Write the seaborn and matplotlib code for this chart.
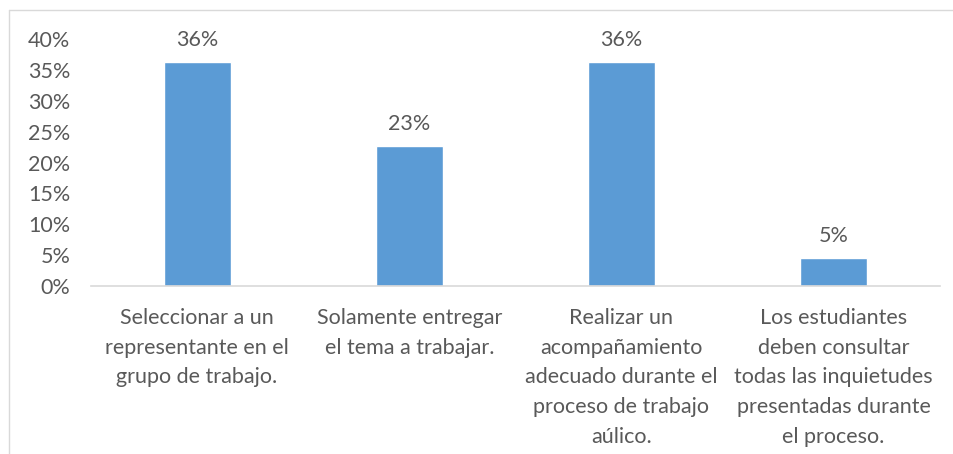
import matplotlib
matplotlib.use("Agg")
import matplotlib.pyplot as plt
import seaborn as sns
import pandas as pd
from matplotlib.lines import Line2D
from matplotlib.ticker import PercentFormatter

# Datos del gráfico
categorias = [
    "Seleccionar a un\nrepresentante en el\ngrupo de trabajo.",
    "Solamente entregar\nel tema a trabajar.",
    "Realizar un\nacompañamiento\nadecuado durante el\nproceso de trabajo\naúlico.",
    "Los estudiantes\ndeben consultar\ntodas las inquietudes\npresentadas durante\nel proceso.",
]
valores = [0.3636, 0.2273, 0.3636, 0.0455]
etiquetas = ["36%", "23%", "36%", "5%"]

df = pd.DataFrame({"categoria": categorias, "valor": valores})

sns.set_style("white")
plt.rcParams["font.family"] = ["Lato", "DejaVu Sans"]
gris = "#595959"

fig = plt.figure(figsize=(9.54, 4.54), dpi=100)
ax = fig.add_axes([0.0954, 0.370, 0.8896, 0.544])

sns.barplot(data=df, x="categoria", y="valor", color="#5B9BD5", width=0.316,
            saturation=1, ax=ax)

# Etiquetas de datos sobre las barras
for i, (v, t) in enumerate(zip(valores, etiquetas)):
    ax.text(i, v + 0.019, t, ha="center", va="bottom", fontsize=15.5, color=gris)

ax.set_ylim(0, 0.40)
ax.set_yticks([i * 0.05 for i in range(9)])
ax.yaxis.set_major_formatter(PercentFormatter(1.0, decimals=0))
ax.set_xlim(-0.5, 3.5)
ax.set_xlabel("")
ax.set_ylabel("")
ax.tick_params(axis="both", length=0, labelsize=15.5, colors=gris)
ax.tick_params(axis="x", pad=16)
ax.tick_params(axis="y", pad=15)
for lbl in ax.get_xticklabels():
    lbl.set_linespacing(1.6)

for s in ["top", "right", "left"]:
    ax.spines[s].set_visible(False)
ax.spines["bottom"].set_color("#D9D9D9")
ax.spines["bottom"].set_linewidth(1.2)

# Borde del área del gráfico
x0 = 9.5 / 954
y0 = 1 - 9.5 / 454
fig.add_artist(Line2D([x0, 1], [y0, y0], color="#D9D9D9", lw=1, transform=fig.transFigure))
fig.add_artist(Line2D([x0, x0], [0, y0], color="#D9D9D9", lw=1, transform=fig.transFigure))

fig.savefig("out.png", dpi=100)
